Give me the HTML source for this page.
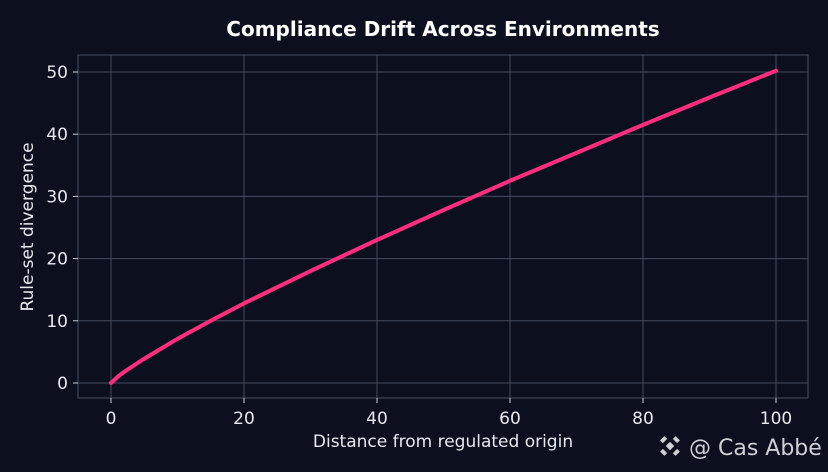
<!DOCTYPE html>
<html><head><meta charset="utf-8"><style>
html,body{margin:0;padding:0;background:#0b0f1e;}
svg{display:block;font-family:"DejaVu Sans","Liberation Sans",sans-serif;}
</style></head><body>
<svg id="chart" width="828" height="472">
<rect width="828" height="472" fill="#0b0f1e"/>
<text x="443" y="36" fill="#ffffff" font-size="20" font-weight="bold" text-anchor="middle">Compliance Drift Across Environments</text>
<g id="grid"></g>
<rect x="78" y="55" width="730" height="343" fill="none" stroke="#4a5060" stroke-width="1"/>
<g id="ticks"></g>
<path id="line" fill="none" stroke="#ff2d7e" stroke-width="4" stroke-linecap="round"/>
<text x="443" y="447" fill="#e8e8ee" font-size="17" text-anchor="middle">Distance from regulated origin</text>
<text transform="translate(33,227) rotate(-90)" fill="#e8e8ee" font-size="17" text-anchor="middle">Rule-set divergence</text>
<g fill="#cfd0d6">
<g transform="translate(670,446) rotate(45)"><rect x="-3" y="-3" width="6" height="6"/><rect x="-11" y="-3" width="4" height="6"/><rect x="7" y="-3" width="4" height="6"/><rect x="-3" y="-11" width="6" height="4"/><rect x="-3" y="7" width="6" height="4"/></g>
<text x="689" y="455" font-size="22">@ Cas Abbé</text>
</g>
</svg>
<script>
const xValues=[0,1,2,5,10,15,20,30,40,50,60,70,80,90,100];
const yValues=[0,1.0,1.8,3.9,7.1,10.0,12.8,18.0,23.0,27.8,32.5,37.0,41.5,45.9,50.2];
const xTicks=[0,20,40,60,80,100];
const yTicks=[0,10,20,30,40,50];
const sx=v=>111+v*6.65;
const sy=v=>383-v*6.22;
const NS="http://www.w3.org/2000/svg";
const grid=document.getElementById('grid'),ticks=document.getElementById('ticks');
function mk(tag,attrs,parent){const e=document.createElementNS(NS,tag);for(const k in attrs)e.setAttribute(k,attrs[k]);parent.appendChild(e);return e;}
xTicks.forEach(t=>{const x=sx(t);
const g=mk('line',{x1:x,x2:x,y1:55,y2:398,stroke:'#454b5c','stroke-width':1},grid);


mk('line',{x1:x,x2:x,y1:398,y2:403,stroke:'#cccccc'},ticks);
const l=mk('text',{x:x,y:424,fill:'#e8e8ee','font-size':17,'text-anchor':'middle'},ticks);l.textContent=t;

});
yTicks.forEach(t=>{const y=sy(t);
const g=mk('line',{x1:78,x2:808,y1:y,y2:y,stroke:'#454b5c','stroke-width':1},grid);


mk('line',{x1:73,x2:78,y1:y,y2:y,stroke:'#cccccc'},ticks);
const l=mk('text',{x:68,y:y+6,fill:'#e8e8ee','font-size':17,'text-anchor':'end'},ticks);l.textContent=t;

});
document.getElementById('line').setAttribute('d',xValues.map((v,i)=>(i?'L':'M')+sx(v)+','+sy(yValues[i])).join(' '));
</script>
</body></html>
